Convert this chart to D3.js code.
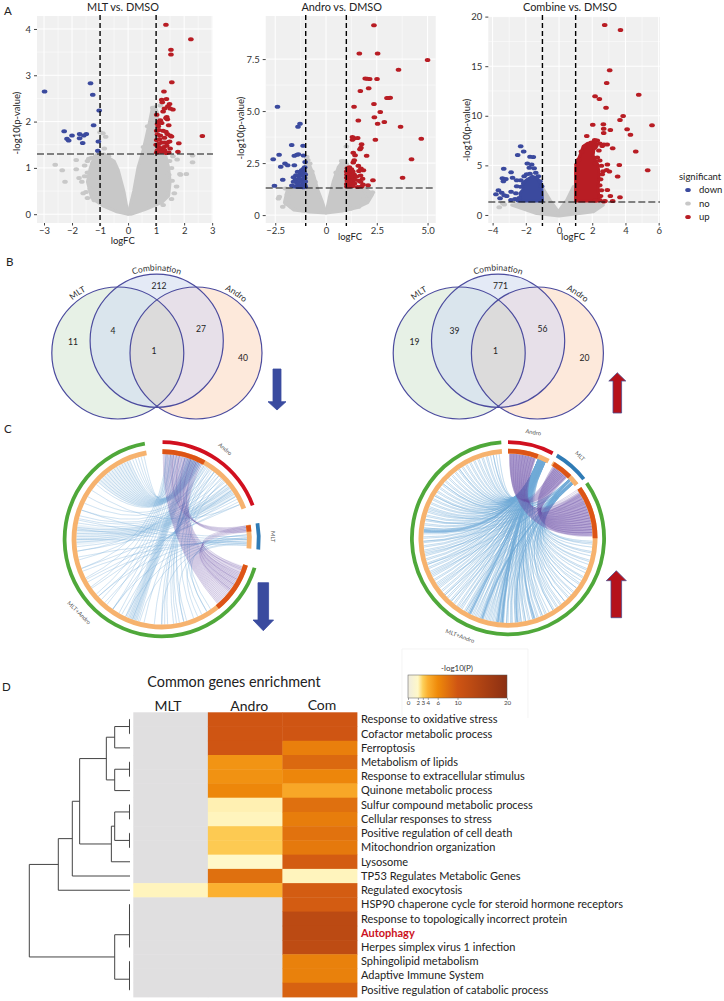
<!DOCTYPE html>
<html>
<head>
<meta charset="utf-8">
<script src="https://cdn.jsdelivr.net/npm/d3@7"></script>
<style>
  html, body { margin: 0; background: #fff; }
  svg { display: block; }
  text { font-family: Lato, "Open Sans", sans-serif; }
</style>
</head>
<body>
<div id="chart"></div>
<script>
// ---- volcano data [logFC, -log10(p)] ----
const mltUp = [[1.35,4.09],[2.24,3.78],[1.53,3.55],[1.53,3.45],[1.56,2.85],[1.28,2.65],[2.65,1.69],[1.81,1.53],[1.78,1.35],
  [1.2,2.47],[1.37,2.49],[1.22,2.42],[1.48,2.38],[1.42,2.33],[1.3,2.28],[1.6,2.26],[1.5,2.28],[1.25,2.22],[1.02,2.15],[1.38,2.1],
  [1.4,2.05],[1.35,2.08],[1.1,2.0],[1.15,2.03],[1.05,1.95],[1.2,1.97],[1.08,1.9],[1.45,1.92],[1.02,1.8],[1.1,1.82],[1.25,1.8],
  [1.35,1.78],[1.4,1.73],[1.5,1.7],[1.55,1.68],[1.05,1.72],[1.15,1.7],[1.3,1.65],[1.02,1.6],[1.12,1.62],[1.2,1.55],[1.1,1.52],
  [1.0,1.5],[1.3,1.55],[1.4,1.55],[1.48,1.57],[1.08,1.45],[1.18,1.42],[1.28,1.45],[1.38,1.48],[1.05,1.38],[1.2,1.35],[1.3,1.38],
  [1.45,1.33],[1.02,1.33],[1.12,1.36],[1.5,1.42],[1.36,1.32]];
const mltDown = [[-2.98,2.65],[-1.34,2.83],[-1.26,2.58],[-1.03,2.24],[-1.23,1.92],[-2.28,1.79],[-2.0,1.7],[-2.18,1.63],[-2.12,1.59],
  [-1.73,1.73],[-1.73,1.64],[-1.49,1.73],[-1.58,1.7],[-1.62,1.54],[-1.06,1.57],[-1.08,1.37]];
const mltNo = [[2.3,1.27],[2.3,1.12],[2.08,0.87],[1.85,0.87],[1.87,0.85],[1.73,0.6],[1.65,0.45],[1.55,0.33],[1.57,0.72],[1.55,1.0],
  [1.75,1.18],[1.6,1.25],[-2.6,1.07],[-2.35,0.95],[-2.25,0.7],[-1.85,1.17],[-1.85,0.97],[-1.75,0.78],[-1.65,0.7],[-1.6,0.45],
  [-1.5,0.48],[-1.45,0.35],[-1.55,1.05],[-1.55,0.82],[-1.4,0.82],[-1.4,1.2],[-1.45,1.15],[-1,1.77],[-0.9,1.75],[-0.8,1.67],[-0.85,1.42],
  [-1.45,0.9],[-1.35,0.55],[-1.2,0.3],[-1.25,1.1],[-1.3,1.22],[-1.1,1.28],[-0.95,1.2],[-0.7,1.25],[-0.6,1.15],[1.38,0.45],[1.45,0.85],
  [1.48,1.15],[1.25,0.2],[-0.5,1.05],[-1.05,1.33],[1.15,2.35],[0.88,2.3],[0.7,1.9],[0.55,1.45]];
const mltCloud = [
  [[0,0],[0.2,0.5],[0.35,1.0],[0.5,1.3],[0.62,1.6],[0.75,1.95],[0.85,2.25],[0.95,2.32],[1.05,2.2],[1.1,1.3],[1.35,1.25],[1.45,1.0],[1.5,0.7],[1.45,0.4],[1.2,0.25],[0.6,0.1],[0.1,0]],
  [[0,0],[-0.15,0.5],[-0.35,0.95],[-0.5,1.15],[-0.65,1.2],[-0.85,1.3],[-1.2,1.25],[-1.35,1.0],[-1.45,0.7],[-1.3,0.35],[-0.9,0.18],[-0.4,0.05]]
];

const androUp = [[2.36,9.12],[1.64,7.77],[2.54,7.77],[5.0,7.45],[3.57,6.99],[1.93,6.57],[2.03,6.55],[2.15,6.54],[2.51,6.54],[2.1,6.1],
  [1.69,5.96],[3.0,5.63],[3.16,5.64],[3.07,5.63],[2.36,5.34],[1.38,5.21],[2.67,4.95],[2.38,4.7],[1.59,4.55],[2.87,4.47],[2.54,4.39],
  [3.67,4.25],[4.69,3.67],[2.43,3.62],[1.3,3.75],[1.39,3.69],[1.56,3.7],[1.3,3.62],[1.75,3.4],[1.72,3.24],[1.67,3.16],[1.34,3.0],
  [1.43,2.88],[2.0,2.85],[1.39,2.64],[4.21,2.68],[1.34,2.53],[1.59,2.37],[1.72,2.24],[1.84,2.16],[1.62,2.12],[3.77,1.79],[2.31,1.67],
  [2.07,1.43],[1.56,1.35],[1.82,1.47],[1.05,2.25],[1.15,2.3],[1.25,2.2],[1.02,2.1],[1.12,2.12],[1.22,2.05],[1.32,2.1],[1.03,1.95],
  [1.14,1.98],[1.26,1.92],[1.38,1.95],[1.02,1.8],[1.12,1.82],[1.22,1.78],[1.35,1.8],[1.5,1.85],[1.7,1.9],[1.8,1.75],[1.05,1.65],
  [1.18,1.66],[1.3,1.62],[1.42,1.7],[1.62,1.65],[1.02,1.5],[1.14,1.5],[1.26,1.48],[1.4,1.52],[1.7,1.6],[1.03,1.38],[1.18,1.38],[1.32,1.4],[1.75,1.38]];
const androDown = [[-2.39,5.21],[-1.28,4.39],[-1.38,4.25],[-1.69,3.37],[-1.13,3.33],[-2.31,2.9],[-1.56,2.85],[-1.43,2.9],[-1.36,2.92],
  [-1.11,2.87],[-2.6,2.69],[-1.03,2.55],[-2.02,2.48],[-1.89,2.4],[-2.23,2.32],[-1.56,2.39],[-2.13,1.7],[-2.54,1.41],[-1.05,2.3],[-1.12,2.22],
  [-1.2,2.15],[-1.08,2.08],[-1.25,2.0],[-1.4,2.08],[-1.02,1.95],[-1.15,1.92],[-1.32,1.88],[-1.48,1.92],[-1.6,1.82],[-1.05,1.78],[-1.2,1.72],
  [-1.35,1.75],[-1.5,1.7],[-1.02,1.62],[-1.15,1.58],[-1.28,1.6],[-1.42,1.55],[-1.6,1.6],[-1.68,1.42],[-1.05,1.45],[-1.18,1.42],[-1.32,1.44],
  [-1.45,1.4],[-1.55,1.38],[-1.02,1.36],[-1.12,1.34],[-1.25,1.35],[-1.38,1.35]];
const androNo = [[-2.3,0.88],[-2.34,0.8],[-2.13,0.4],[-2.0,1.28],[1.0,3.3],[0.77,2.6],[0.93,2.58],[2.28,1.1],[2.0,0.77],[1.84,0.9],[-0.95,2.8],
  [-0.8,2.48],[-0.9,2.65],[1.0,2.45],[-1.95,0.55],[-1.9,1.0],[-1.7,0.4],[-1.3,0.25],[1.9,1.2],[2.1,1.0],[1.6,0.4],[1.2,0.3],[-0.7,2.1],[-0.55,1.6],[0.5,2.05]];
const androCloud = [
  [[0,0.1],[0.15,0.8],[0.35,1.6],[0.6,2.3],[0.85,2.62],[1.05,2.4],[1.05,1.3],[1.9,1.3],[2.3,1.0],[2.05,0.6],[1.5,0.35],[0.8,0.2]],
  [[0,0.1],[-0.2,0.7],[-0.4,1.2],[-0.6,1.9],[-0.85,2.5],[-1.0,2.7],[-1.05,1.3],[-1.9,1.25],[-2.05,0.6],[-1.6,0.25],[-0.8,0.15]]
];

const comUp = [[2.75,19.16],[3.7,18.66],[3.05,14.6],[2.87,13.3],[4.8,12.13],[2.17,11.97],[2.43,11.7],[2.83,10.8],[3.86,9.98],[3.67,9.58],
  [2.03,9.1],[2.67,9.14],[5.6,9.04],[2.69,8.7],[3.09,8.57],[4.1,8.64],[2.69,8.27],[4.3,8.1],[1.67,7.97],[3.23,6.72],[4.62,6.39],[2.91,5.08],
  [3.63,5.04],[5.34,4.5],[2.87,4.54],[3.03,4.37],[3.53,3.87],[2.91,2.52],[3.09,1.92],[3.67,1.78],[2.77,1.41],[3.23,1.41],
  [2.7,7.1],[2.9,7.1],[2.6,6.95],[2.3,7.5],[2.15,7.55],[1.95,7.3],[1.8,7.05],[1.55,6.9],[2.45,7.2],[2.15,6.8],[2.4,6.5],[1.35,6.4],[1.2,5.6],
  [1.08,5.1],[2.3,5.8],[2.45,5.5],[2.2,5.2],[2.55,4.95],[2.65,4.4],[2.6,4.1],[2.5,3.6],[2.45,3.0],[2.55,2.5],[2.5,1.9],[2.45,1.5],[2.2,1.45],[2.7,1.35]];
const comUpDense = [[1,1.4],[1,4.8],[1.1,5.3],[1.3,6.2],[1.45,6.9],[1.7,7.2],[2.2,7.4],[2.3,7.0],[2.1,6.6],[2.05,6.0],[2.2,5.5],[2.35,5.0],[2.4,4.2],[2.4,3.6],[2.35,3.0],[2.4,1.4]];
const comDown = [[-2.31,6.92],[-2.13,6.39],[-2.49,6.05],[-1.75,5.88],[-1.55,5.85],[-1.91,5.2],[-1.65,5.1],[-1.5,4.7],[-1.79,4.77],[-3.33,4.67],
  [-2.89,4.3],[-3.41,3.7],[-3.2,3.63],[-2.8,3.76],[-2.55,3.5],[-3.35,3.4],[-3.65,2.5],[-3.45,2.25],[-3.8,2.1],[-3.55,1.68],[-2.89,2.35],[-3.15,1.9],
  [-2.9,1.5],[-2.55,2.9],[-2.3,2.85],[-2.6,2.2],[-2.4,1.7],[-2.65,1.6],[-3.3,2.0],[-1.4,4.25],[-1.25,3.9],[-1.75,4.15],[-2.1,3.9],[-2.3,3.5],
  [-1.95,4.1],[-1.05,2.9],[-1.15,3.4],[-2.45,1.45]];
const comDownDense = [[-2.3,1.4],[-2.35,2.2],[-2.15,2.6],[-2.2,3.2],[-1.9,3.6],[-1.6,3.9],[-1.3,3.7],[-1.05,3.0],[-1.0,1.4]];
const comNo = [[-3.6,0.77],[-3.4,1.2],[-3.3,1.05]];
const comCloud = [[[-1.04,2.9],[-0.54,1.5],[-0.04,0.33],[0.46,1.5],[0.86,2.86],[1.0,1.4],[2.67,1.0],[2.07,0.33],[0,-0.1],[-1.35,0.15],[-2.85,1],[-1.04,1.3]]];

const xTicks = [[-3,-2,-1,0,1,2,3],[-2.5,0,2.5,5],[-4,-2,0,2,4,6]];
const yTicks = [[0,1,2,3,4],[0,2.5,5,7.5],[0,5,10,15,20]];
const panelTitles = ["MLT vs. DMSO","Andro vs. DMSO","Combine vs. DMSO"];
const sigLevels = ["down","no","up"];

// ---- venn counts ----
const vennSets = ["MLT","Combination","Andro"];
const vennDown = [11,212,40,4,27,1];
const vennUp = [19,771,20,39,56,1];

// ---- circos, angles in degrees clockwise from the top ----
const circosSets = ["Andro","MLT","MLT+Andro"];
const leftSectors = [[0.5,69.5],[80.5,96],[107,350]];
const leftShared = [[0.5,29],[80.8,85],[107,140.6]];
const rightSectors = [[0,27.7],[30.5,52],[55,356]];
const rightShared = [[0,20],[31.4,45],[55,90]];

const leftPurpleBands = [[1,28,109,139],[81,85,108,128],[81,85,6,25]];
const leftBlueBands = [[312,338,19,27],[266,280,50,60],[197,203,17,23]];
const leftPurple = [[1,139],[2,138],[3,137],[4,136],[5,135],[6,134],[7,133],[8,132],[9,131],[10,130],[11,129],[12,128],[13,127],[14,126],
  [15,125],[16,124],[17,123],[18,122],[19,121],[20,120],[21,119],[22,118],[23,117],[24,116],[25,115],[26,113],[27,111],[28,109],
  [81,110],[82,114],[83,118],[84,122],[85,126],[81,8],[82,12],[83,16],[84,20],[85,24]];
const leftBlue = [[310,27],[312,26],[314,26],[316,25],[318,25],[320,24],[322,24],[324,23],[326,23],[328,22],[330,22],[332,21],[334,20],[336,20],
  [338,19],[340,18],[342,16],[344,10],[346,6],[348,3],[262,62],[265,60],[268,58],[270,57],[272,56],[274,55],[276,53],[278,52],[281,50],[284,48],
  [286,45],[290,42],[250,66],[242,64],[235,60],[228,55],[222,50],[215,47],[208,44],[200,40],[192,38],[185,36],[178,33],[170,31],[165,30],[158,34],
  [152,38],[148,42],[145,46],[196,24],[197,23],[198,22],[199,21],[200,20],[201,19],[202,18],[203,17],[204,16],[205,14],[210,12],[215,10],[220,8],
  [225,7],[230,6],[236,5],[243,4],[250,3],[180,29],[176,28],[172,27],[168,26],[163,25],[290,88],[283,90],[277,92],[270,93],[258,94],[248,92],[240,90],
  [228,89],[215,87],[205,89],[195,91],[180,93],[165,94],[155,90],[148,87],[295,35],[300,32],[305,66],[256,30],[262,38]];

const rightPurpleBands = [[1,19,57,89],[32,44,58,88],[1,19,33,44]];
const rightBlueBands = [[183,184.5,23,24],[186,187.5,22.5,23.5],[206,207.5,24,25],[274,276,22,23],[197,198.5,48,49],[173,174,48.5,49.5],[161,162.5,24.5,25.5]];
const rightPurple = [[1,88],[2,86],[3,84],[4,82],[5,80],[6,78],[7,76],[8,74],[9,72],[10,70],[11,68],[12,66],[13,64],[14,62],[15,60],[16,58],
  [17,57],[18,56],[19,55],[2,34],[4,35],[6,36],[8,37],[10,38],[12,39],[14,40],[16,41],[18,43],[32,86],[33,84],[34,82],[35,80],[36,78],[37,76],[38,74],
  [39,72],[40,70],[41,68],[42,65],[43,62],[44,59]];
const rightBlue = [[352,21],[348,22],[345,21],[342,23],[339,22],[336,24],[333,23],[330,25],[327,24],[324,22],[321,26],[318,23],[315,25],[312,21],[309,24],
  [306,22],[303,26],[300,23],[297,25],[294,21],[291,24],[288,22],[285,26],[282,23],[279,25],[276,21],[273,24],[270,22],[267,26],[264,23],[261,25],[258,21],
  [255,24],[252,22],[249,26],[246,23],[243,25],[240,21],[237,24],[234,22],[231,26],[228,23],[225,25],[222,21],[219,24],[216,22],[213,26],[210,23],[207,25],
  [204,21],[201,24],[198,22],[195,26],[192,23],[189,25],[186,21],[183,24],[180,22],[177,26],[174,23],[171,25],[168,21],[165,24],[162,22],[159,26],[156,23],
  [350,47],[340,50],[325,46],[310,49],[290,47],[275,50],[260,46],[245,49],[228,47],[215,50],[203,46],[194,49],[188,47],[181,50],[175,46],[168,49],[160,47],
  [153,50],[147,46],[141,49],[135,47],[129,50],[123,46],[117,49],[111,47],[105,50],[99,46],[93,49],[184,23],[184,22],[185,24],[185,21],[187,23],[188,22],
  [206,24],[207,23],[208,25],[209,22],[274,22],[275,23],[276,22],[277,24],[197,48],[198,47],[199,49],[174,49],[173,48],
  [354,23],[350,25],[346,24],[343,21],[337,26],[334,22],[331,21],[328,26],[325,23],[322,25],[319,21],[316,24],[313,22],[310,26],[307,23],[304,25],[301,21],
  [298,24],[295,22],[292,26],[289,23],[286,25],[283,21],[280,24],[277,22],[271,25],[268,21],[265,24],[262,22],[259,26],[256,23],[253,25],[250,21],[247,24],
  [244,22],[241,26],[238,23],[235,25],[232,21],[229,24],[226,22],[223,26],[220,23],[217,25],[214,21],[211,24],[208,22],[205,26],[202,23],[199,25],[196,21],
  [193,24],[190,22],[187,26],[184,24],[181,25],[178,21],[175,24],[172,22],[169,26],[166,23],[163,25],[157,24],[154,22],[151,26],[148,23],[145,25],[142,21],
  [138,24],[134,22],[130,26],[126,23],[122,25],[118,21],[112,24],[106,22],[100,26],[94,23],[148,48],[144,50],[138,46],[132,49],[126,47],[120,50],[114,46],
  [108,49],[102,47],[96,50],[92,47],[156,49],[163,46],[171,50],[178,47],[185,49],[191,46],[200,50],[210,47],[222,49],[236,46],[252,50],[268,47],[283,49],[300,46]];

// ---- heatmap ----
const heatCols = ["MLT","Andro","Com"];
const heatRows = ["Response to oxidative stress","Cofactor metabolic process","Ferroptosis","Metabolism of lipids",
  "Response to extracellular stimulus","Quinone metabolic process","Sulfur compound metabolic process","Cellular responses to stress",
  "Positive regulation of cell death","Mitochondrion organization","Lysosome","TP53 Regulates Metabolic Genes","Regulated exocytosis",
  "HSP90 chaperone cycle for steroid hormone receptors","Response to topologically incorrect protein","Autophagy",
  "Herpes simplex virus 1 infection","Sphingolipid metabolism","Adaptive Immune System","Positive regulation of catabolic process"];
const heatMLT = [null,null,null,null,null,null,null,null,null,null,null,null,2.1,null,null,null,null,null,null,null];
const heatAndro = [10,10,10,5.5,5.6,6.2,2.2,2.1,3.2,3.2,2,8,4,null,null,null,null,null,null,null];
const heatCom = [10,10,6.8,8.5,6.3,4.5,8,7,7.8,7.3,9.5,2.1,9.5,9.5,13,13,12.5,6.7,6.7,9];
const heatStops = [0,2,3,4,6,10,20];
const heatStopColors = ["#efece0","#fff8c8","#fdd05a","#fbb030","#ef8a0a","#cf5513","#8b2f13"];

// linkage table: [left, right, distance]; >=0 is a row, <0 refers to merge -(k+1)
const dendroMerges = [[0,1,0.005],[-1,2,0.152],[3,4,0.005],[-3,5,0.152],[-2,-4,0.235],[6,7,0.005],[8,9,0.005],[-6,-7,0.152],[-8,10,0.185],
  [-5,-9,0.5],[-10,11,0.573],[-11,12,0.712],[13,14,0.005],[-13,15,0.005],[-14,16,0.005],[17,18,0.005],[-16,19,0.005],[-15,-17,0.152],[-12,-18,1]];

const colors = {down:"#3b4a9e", no:"#c8c8c8", up:"#b81d24"};

const svg = d3.select("#chart").append("svg")
    .attr("width", 724)
    .attr("height", 1001)
    .attr("viewBox", "0 0 724 1001");

// panel letters
[["A",4,15],["B",6,266],["C",4,433],["D",2,691]].forEach(d => {
  svg.append("text").attr("x", d[1]).attr("y", d[2]).attr("font-size", 11.5).attr("fill", "#222").text(d[0]);
});

function drawVolcano(cfg) {
  const x = d3.scaleLinear().domain(cfg.xDomain).range(cfg.xRange);
  const y = d3.scaleLinear().domain(cfg.yDomain).range([223, 16]);
  const g = svg.append("g");

  g.append("rect").attr("x", cfg.xRange[0]).attr("y", 16)
    .attr("width", cfg.xRange[1] - cfg.xRange[0]).attr("height", 207).attr("fill", "#f0f0f0");

  // grid, minor lines sit half way between ticks
  const mid = t => d3.pairs(t).map(p => (p[0] + p[1]) / 2);
  mid(cfg.xTicks).forEach(v => g.append("line").attr("x1", x(v)).attr("x2", x(v)).attr("y1", 16).attr("y2", 223).attr("stroke", "#fff").attr("stroke-width", 0.5));
  mid(cfg.yTicks).forEach(v => g.append("line").attr("y1", y(v)).attr("y2", y(v)).attr("x1", cfg.xRange[0]).attr("x2", cfg.xRange[1]).attr("stroke", "#fff").attr("stroke-width", 0.5));
  cfg.xTicks.forEach(v => g.append("line").attr("x1", x(v)).attr("x2", x(v)).attr("y1", 16).attr("y2", 223).attr("stroke", "#fff").attr("stroke-width", 1));
  cfg.yTicks.forEach(v => g.append("line").attr("y1", y(v)).attr("y2", y(v)).attr("x1", cfg.xRange[0]).attr("x2", cfg.xRange[1]).attr("stroke", "#fff").attr("stroke-width", 1));

  const line = d3.line().x(d => x(d[0])).y(d => y(d[1])).curve(d3.curveLinearClosed);
  const dots = (data, key) => g.append("g").selectAll("ellipse").data(data).join("ellipse")
      .attr("cx", d => x(d[0])).attr("cy", d => y(d[1]))
      .attr("rx", 2.8).attr("ry", 2).attr("fill", colors[key]);
  const blob = (data, key) => g.append("path").attr("d", line(data)).attr("fill", colors[key])
      .attr("stroke", colors[key]).attr("stroke-width", 3).attr("stroke-linejoin", "round");

  cfg.cloud.forEach(c => blob(c, "no"));
  dots(cfg.no, "no");
  if (cfg.downDense) blob(cfg.downDense, "down");
  dots(cfg.down, "down");
  if (cfg.upDense) blob(cfg.upDense, "up");
  dots(cfg.up, "up");

  // thresholds
  [-1, 1].forEach(v => g.append("line").attr("x1", x(v)).attr("x2", x(v)).attr("y1", 15).attr("y2", 226)
      .attr("stroke", "#000").attr("stroke-width", 1.4).attr("stroke-dasharray", "5,3"));
  g.append("line").attr("x1", cfg.xRange[0]).attr("x2", cfg.xRange[1]).attr("y1", y(1.3)).attr("y2", y(1.3))
    .attr("stroke", "#111").attr("stroke-width", 1.1).attr("stroke-dasharray", "7,3");

  const xAxis = g.append("g").attr("transform", "translate(0,223)")
    .call(d3.axisBottom(x).tickValues(cfg.xTicks).tickSize(2.5).tickPadding(1.5).tickFormat(cfg.xFmt));
  const yAxis = g.append("g").attr("transform", `translate(${cfg.xRange[0]},0)`)
    .call(d3.axisLeft(y).tickValues(cfg.yTicks).tickSize(3).tickPadding(3).tickFormat(cfg.yFmt));
  [xAxis, yAxis].forEach(a => {
    a.select(".domain").remove();
    a.selectAll("line").attr("stroke", "#444");
    a.selectAll("text").attr("font-size", 9.5).attr("fill", "#333").attr("font-family", "Lato, sans-serif");
  });

  g.append("text").attr("x", cfg.titleX).attr("y", 11).attr("text-anchor", "middle").attr("font-size", 10.9).attr("fill", "#222").text(cfg.title);
  g.append("text").attr("x", cfg.xLabelX).attr("y", cfg.xLabelY).attr("text-anchor", "middle").attr("font-size", 9.5).attr("fill", "#222").text("logFC");
  g.append("text").attr("transform", `translate(${cfg.yLabelX},${cfg.yLabelY}) rotate(-90)`).attr("text-anchor", "middle")
    .attr("font-size", 9.5).attr("fill", "#222").text("-log10(p-value)");
}

drawVolcano({title: panelTitles[0], titleX: 123, xRange: [37, 213], xDomain: [-3.25, 3.03], yDomain: [-0.19, 4.28],
  xTicks: xTicks[0], yTicks: yTicks[0], xFmt: d3.format("d"), yFmt: d3.format("d"),
  up: mltUp, down: mltDown, no: mltNo, cloud: mltCloud,
  xLabelX: 122.7, xLabelY: 244, yLabelX: 20, yLabelY: 123});
drawVolcano({title: panelTitles[1], titleX: 341.7, xRange: [265.7, 435.7], xDomain: [-2.97, 5.4], yDomain: [-0.38, 9.57],
  xTicks: xTicks[1], yTicks: yTicks[1], xFmt: d => d === 0 ? "0" : d3.format(".1f")(d), yFmt: d => d === 0 ? "0" : d3.format(".1f")(d),
  up: androUp, down: androDown, no: androNo, cloud: androCloud,
  xLabelX: 350, xLabelY: 240, yLabelX: 244, yLabelY: 128});
drawVolcano({title: panelTitles[2], titleX: 570, xRange: [488.3, 660], xDomain: [-4.26, 6.08], yDomain: [-0.81, 20.06],
  xTicks: xTicks[2], yTicks: yTicks[2], xFmt: d3.format("d"), yFmt: d3.format("d"),
  up: comUp, upDense: comUpDense, down: comDown, downDense: comDownDense, no: comNo, cloud: comCloud,
  xLabelX: 573, xLabelY: 240, yLabelX: 470, yLabelY: 130});

// legend of the volcano row
svg.append("text").attr("x", 679).attr("y", 180).attr("font-size", 9.5).attr("fill", "#222").text("significant");
sigLevels.forEach((s, i) => {
  const ky = 190 + i * 13.5;
  svg.append("ellipse").attr("cx", 688).attr("cy", ky).attr("rx", 2.8).attr("ry", 2).attr("fill", colors[s]);
  svg.append("text").attr("x", 699).attr("y", ky + 3.2).attr("font-size", 9.5).attr("fill", "#222").text(s);
});

// ---- venn ----
function drawVenn(id, dx, counts) {
  const c = [[117.8, 353, 66], [156.7, 340.7, 66.6], [196, 353, 66]];
  const fills = ["#e7f1e6", "#e4eaf6", "#fde9db"];
  const g = svg.append("g").attr("transform", `translate(${dx},0)`);
  const defs = g.append("defs");
  c.forEach((d, i) => defs.append("clipPath").attr("id", `${id}-c${i}`)
    .append("circle").attr("cx", d[0]).attr("cy", d[1]).attr("r", d[2]));

  const circle = (p, d, fill) => p.append("circle").attr("cx", d[0]).attr("cy", d[1]).attr("r", d[2]).attr("fill", fill);
  c.forEach((d, i) => circle(g, d, fills[i]));
  circle(g.append("g").attr("clip-path", `url(#${id}-c1)`), c[0], "#dae5ed");
  circle(g.append("g").attr("clip-path", `url(#${id}-c1)`), c[2], "#e7e0e9");
  circle(g.append("g").attr("clip-path", `url(#${id}-c0)`), c[2], "#e6e2dc");
  circle(g.append("g").attr("clip-path", `url(#${id}-c0)`).append("g").attr("clip-path", `url(#${id}-c1)`), c[2], "#dcdbdb");
  c.forEach(d => g.append("circle").attr("cx", d[0]).attr("cy", d[1]).attr("r", d[2])
    .attr("fill", "none").attr("stroke", "#4b4b9e").attr("stroke-width", 1.2));

  // set names follow the circle edge
  const labelAngle = [-34, 0, 34];
  vennSets.forEach((name, i) => {
    const a0 = (labelAngle[i] - 60) * Math.PI / 180 - Math.PI / 2;
    const a1 = (labelAngle[i] + 60) * Math.PI / 180 - Math.PI / 2;
    const p = d3.path();
    p.arc(c[i][0], c[i][1], c[i][2] + 3.5, a0, a1);
    defs.append("path").attr("id", `${id}-arc${i}`).attr("d", p.toString());
    g.append("text").attr("font-size", 8.5).attr("fill", "#333").attr("font-family", "Liberation Sans, sans-serif")
      .append("textPath").attr("href", `#${id}-arc${i}`).attr("startOffset", "50%").attr("text-anchor", "middle").text(name);
  });

  const spots = [[73,342],[159,286],[243,358],[113,331],[201,329],[154,351]];
  counts.forEach((n, i) => g.append("text").attr("x", spots[i][0]).attr("y", spots[i][1] + 3)
    .attr("text-anchor", "middle").attr("font-size", 8.6).attr("fill", "#222").attr("font-family", "Liberation Sans, sans-serif").text(n));
}
drawVenn("vd", 0, vennDown);
drawVenn("vu", 341.4, vennUp);

// block arrows
function arrow(xc, shaft, head, yTail, yBase, yTip, fill, stroke) {
  const pts = [[xc - shaft, yTail], [xc + shaft, yTail], [xc + shaft, yBase], [xc + head, yBase], [xc, yTip], [xc - head, yBase], [xc - shaft, yBase]];
  svg.append("path").attr("d", d3.line()(pts) + "Z").attr("fill", fill).attr("stroke", stroke).attr("stroke-width", 0.8);
}
arrow(277, 4, 9, 369, 401.7, 410, "#3a4b9f", "#3a4b9f");
arrow(617.3, 4.3, 8.5, 413, 381, 372.7, "#b5121b", "#4f4f8f");
arrow(263.3, 5.3, 10.3, 582.7, 620, 630.7, "#3a4b9f", "#3a4b9f");
arrow(616.3, 5.3, 10, 617.7, 580.7, 570.7, "#b5121b", "#4f4f8f");

// ---- circos ----
const rad = d => d * Math.PI / 180;
function drawCircos(cfg) {
  const g = svg.append("g").attr("transform", `translate(${cfg.cx},${cfg.cy})`);
  const ringColors = ["#d1101f", "#2f7bb5", "#4fa83a"];
  const arc = d3.arc();
  const r = cfg.rInner;
  const ribbon = d3.ribbon();
  const band = d => ribbon({
    source: {startAngle: rad(d[0]), endAngle: rad(d[1]), radius: r},
    target: {startAngle: rad(d[2]), endAngle: rad(d[3]), radius: r}});
  const hair = d => ribbon({
    source: {startAngle: rad(d[0]), endAngle: rad(d[0]), radius: r},
    target: {startAngle: rad(d[1]), endAngle: rad(d[1]), radius: r}});

  g.append("g").selectAll("path").data(cfg.blueBands).join("path").attr("d", band)
    .attr("fill", "#6fa8d8").attr("fill-opacity", cfg.blueFill);
  g.append("g").selectAll("path").data(cfg.blue).join("path").attr("d", hair)
    .attr("fill", "none").attr("stroke", "#6fa8d8").attr("stroke-width", 0.45).attr("stroke-opacity", cfg.blueLine);
  g.append("g").selectAll("path").data(cfg.purpleBands).join("path").attr("d", band)
    .attr("fill", "#7a5db0").attr("fill-opacity", cfg.purpleFill);
  g.append("g").selectAll("path").data(cfg.purple).join("path").attr("d", hair)
    .attr("fill", "none").attr("stroke", "#6a4fa5").attr("stroke-width", 0.4).attr("stroke-opacity", 0.3);

  cfg.sectors.forEach((s, i) => {
    g.append("path").attr("fill", ringColors[i]).attr("d", arc({innerRadius: cfg.rOuter, outerRadius: cfg.rOuter + 3.8, startAngle: rad(s[0]), endAngle: rad(s[1])}));
    g.append("path").attr("fill", "#f6b26e").attr("d", arc({innerRadius: r, outerRadius: r + 4.8, startAngle: rad(s[0]), endAngle: rad(s[1])}));
    const h = cfg.shared[i];
    g.append("path").attr("fill", "#dd5416").attr("d", arc({innerRadius: r, outerRadius: r + 4.8, startAngle: rad(h[0]), endAngle: rad(h[1])}));
  });

  circosSets.forEach((name, i) => {
    const l = cfg.labels[i];
    svg.append("text").attr("transform", `translate(${l[0]},${l[1]}) rotate(${l[2]})`).attr("text-anchor", "middle")
      .attr("dy", "0.35em").attr("font-size", 5.8).attr("fill", "#555").attr("font-family", "Liberation Sans, sans-serif").text(name);
  });
}
drawCircos({cx: 161.7, cy: 539.3, rInner: 85.3, rOuter: 95.2, sectors: leftSectors, shared: leftShared,
  purple: leftPurple, blue: leftBlue, purpleBands: leftPurpleBands, blueBands: leftBlueBands,
  blueFill: 0.14, blueLine: 0.4, purpleFill: 0.1, labels: [[225,449,40],[272.7,536.7,90],[79,612.7,45]]});
drawCircos({cx: 508, cy: 538.3, rInner: 84.7, rOuter: 94.2, sectors: rightSectors, shared: rightShared,
  purple: rightPurple, blue: rightBlue, purpleBands: rightPurpleBands, blueBands: rightBlueBands,
  blueFill: 0.6, blueLine: 0.5, purpleFill: 0.32, labels: [[533.3,432.3,10],[580,456,45],[460,636,20]]});

// ---- heatmap ----
const hx = d3.scaleBand().domain(heatCols).range([133.3, 357]);
const hy = d3.scaleBand().domain(heatRows).range([712.3, 997]);
const hc = d3.scaleLinear().domain(heatStops).range(heatStopColors);
const heatByCol = [heatMLT, heatAndro, heatCom];

heatCols.forEach((col, j) => {
  svg.append("g").selectAll("rect").data(heatByCol[j]).join("rect")
    .attr("x", hx(col)).attr("y", (d, i) => hy(heatRows[i]))
    .attr("width", hx.bandwidth() + 0.4).attr("height", hy.bandwidth() + 0.4)
    .attr("fill", d => d === null ? "#e0dfe0" : hc(d));
});

svg.append("text").attr("x", 234).attr("y", 687).attr("text-anchor", "middle").attr("font-size", 14.4).attr("fill", "#222").text("Common genes enrichment");
heatCols.forEach((col, j) => {
  svg.append("text").attr("x", [168, 249.3, 322][j]).attr("y", [710.5, 710.5, 709.5][j]).attr("text-anchor", "middle")
    .attr("font-size", 14).attr("fill", "#222").text(col);
});
svg.append("g").selectAll("text").data(heatRows).join("text")
  .attr("x", 361).attr("y", d => hy(d) + hy.bandwidth() / 2).attr("dy", "0.35em")
  .attr("font-size", 11)
  .attr("font-weight", d => d === "Autophagy" ? 700 : 400)
  .attr("fill", d => d === "Autophagy" ? "#cc1122" : "#222")
  .text(d => d);

// dendrogram from the linkage table
const dx = d3.scaleLinear().domain([0, 1]).range([130, 29.3]);
const dendroG = svg.append("g").attr("fill", "none").attr("stroke", "#444").attr("stroke-width", 1);
const mergeNodes = [];
const nodeOf = id => id >= 0 ? {y: hy(heatRows[id]) + hy.bandwidth() / 2, d: 0} : mergeNodes[-id - 1];
dendroMerges.forEach(m => {
  const a = nodeOf(m[0]), b = nodeOf(m[1]);
  const px = dx(m[2]);
  dendroG.append("path").attr("d", d3.line()([[dx(a.d), a.y], [px, a.y], [px, b.y], [dx(b.d), b.y]]));
  mergeNodes.push({y: (a.y + b.y) / 2, d: m[2]});
});

// colour bar
const defs = svg.append("defs");
const barScale = d3.scaleLinear().domain([0, 20]).range([408, 507]);
const grad = defs.append("linearGradient").attr("id", "heatBar");
heatStops.forEach((s, i) => grad.append("stop").attr("offset", s / 20).attr("stop-color", heatStopColors[i]));
svg.append("path").attr("d", "M402,649H528M402,649V718M528,649V718").attr("fill", "none").attr("stroke", "#efefef").attr("stroke-width", 0.7);
svg.append("rect").attr("x", 408).attr("y", 675).attr("width", 99).attr("height", 23)
  .attr("fill", "url(#heatBar)").attr("stroke", "#555").attr("stroke-width", 0.5);
svg.append("text").attr("x", 457).attr("y", 671).attr("text-anchor", "middle").attr("font-size", 8)
  .attr("fill", "#333").attr("font-family", "Liberation Sans, sans-serif").text("-log10(P)");
const barAxis = svg.append("g").attr("transform", "translate(0,698)")
  .call(d3.axisBottom(barScale).tickValues(heatStops).tickSize(2).tickPadding(1).tickFormat(d3.format("d")));
barAxis.select(".domain").remove();
barAxis.selectAll("line").attr("stroke", "#555").attr("stroke-width", 0.5);
barAxis.selectAll("text").attr("font-size", 6.2).attr("fill", "#444").attr("font-family", "DejaVu Sans, sans-serif");
</script>
</body>
</html>
